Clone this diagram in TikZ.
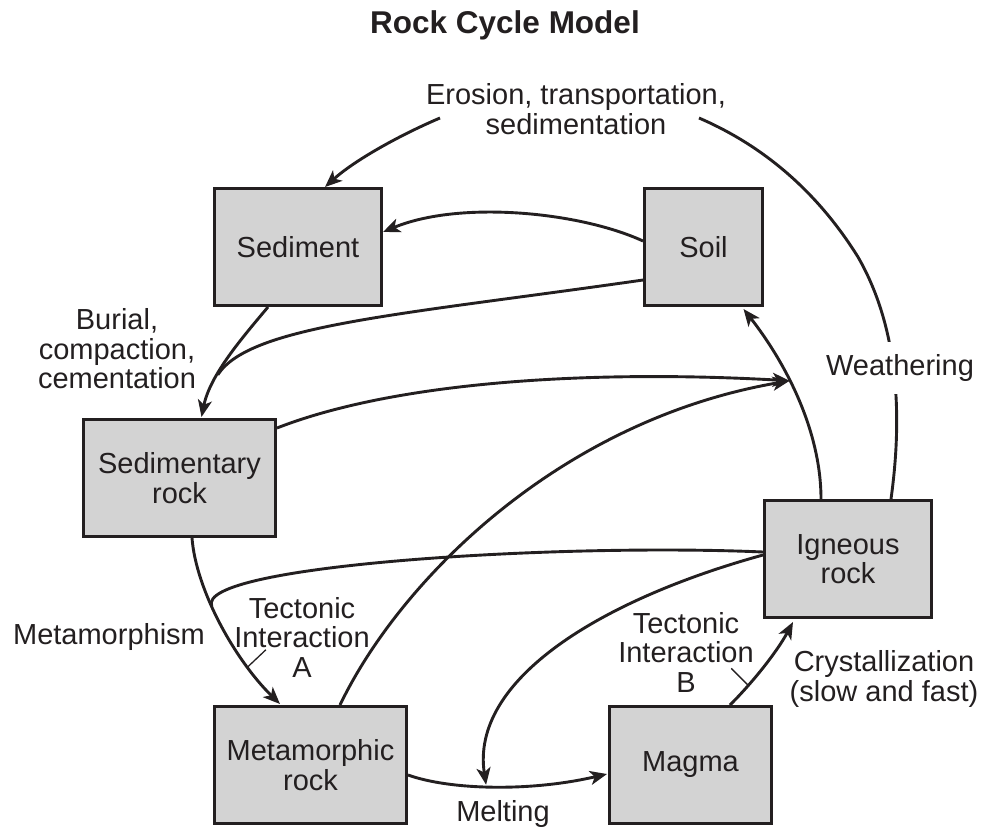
\documentclass[tikz,border=0pt]{standalone}
\usepackage{fontspec}
\setmainfont{Liberation Sans}
\usetikzlibrary{arrows.meta,calc}
\definecolor{boxgray}{RGB}{211,211,211}
\definecolor{ink}{RGB}{35,31,32}
\begin{document}
\begin{tikzpicture}[x=1pt,y=-1pt,
  every node/.style={font=\fontsize{29pt}{29.5pt}\selectfont, text=ink},
  rockbox/.style={draw=ink, line width=2.8pt, fill=boxgray, inner sep=0pt, align=center, minimum height=117.2pt},
  flow/.style={draw=ink, line width=2.9pt, -{Stealth[length=17pt,width=14pt,inset=4.5pt]}},
  bareline/.style={draw=ink, line width=2.9pt},
  tickline/.style={draw=ink, line width=1.3pt},
  lbl/.style={align=center, inner sep=0pt}]
\useasboundingbox (0,0) rectangle (983,827);

% title
\node[font=\bfseries\fontsize{31.5pt}{32pt}\selectfont, anchor=base] (title) at (505,33) {Rock Cycle Model};

% boxes
\node[rockbox, minimum width=167.2pt] (sed) at (298,247) {Sediment};
\node[rockbox, minimum width=118.2pt] (soil) at (703.5,247) {Soil};
\node[rockbox, minimum width=192.2pt] (sedrock) at (179.5,478) {Sedimentary\\rock};
\node[rockbox, minimum width=167.2pt] (ign) at (848,559) {Igneous\\rock};
\node[rockbox, minimum width=192.2pt] (meta) at (310.5,765) {Metamorphic\\rock};
\node[rockbox, minimum width=162.2pt] (magma) at (690.5,765) {Magma};

% labels
\node[lbl] (ero) at (576,109) {Erosion, transportation,\\sedimentation};
\node[lbl] (burial) at (117,349) {Burial,\\compaction,\\cementation};
\node[lbl] (metalbl) at (109,637) {Metamorphism};
\node[lbl] (teca) at (302,637) {Tectonic\\Interaction\\A};
\node[lbl] (tecb) at (686,652) {Tectonic\\Interaction\\B};
\node[lbl] (cryst) at (884,679) {Crystallization\\(slow and fast)};
\node[lbl, anchor=base] (melt) at (503,821) {Melting};

% erosion / weathering
\coordinate (eroL) at ($(ero.center)+(-136,9)$);
\coordinate (eroR) at ($(ero.center)+(123,9)$);
\draw[flow] (eroL) .. controls (400,135) and (355,160) .. ($(sed.north)+(27,0)$);
\draw[bareline] ($(ign.north)+(43,0)$) .. controls (902,420) and (900,330) .. (858,257)
   .. controls (810,180) and (750,140) .. (eroR);
\node[fill=white, inner xsep=1pt, inner ysep=12pt] (weath) at (900,368) {Weathering};

% soil -> sediment
\draw[flow] ($(soil.west)+(0,-6)$) .. controls (580,212) and (460,200) .. ($(sed.east)+(0,-15)$);
% sediment -> sedimentary rock
\draw[flow] ($(sed.south)+(-30,0)$) .. controls (242,338) and (210,375) .. ($(sedrock.north)+(22,-1)$)
   coordinate[pos=0.65] (J);
% soil -> sedimentary rock (merging)
\draw[bareline] ($(soil.west)+(0,33)$) .. controls (400,315) and (250,325) .. (J);

% igneous -> soil
\draw[flow] ($(ign.north)+(-27,0)$) .. controls (821,430) and (785,362) .. ($(soil.south)+(40,2)$)
   coordinate[pos=0.59] (j1);
% sedimentary rock -> weathering path
\draw[flow] ($(sedrock.east)+(0,-50)$) .. controls (400,380) and (600,370) .. (j1);
% metamorphic rock -> weathering path
\draw[flow] ($(meta.north)+(29.5,0)$) .. controls (400,580) and (560,420) .. (j1);

% sedimentary rock -> metamorphic rock
\draw[flow] ($(sedrock.south)+(12.5,0)$) .. controls (196,590) and (235,660) .. ($(meta.north)+(-30.5,-1)$)
   coordinate[pos=0.4] (ja) coordinate[pos=0.75] (ta);
% igneous -> tectonic A
\draw[bareline] ($(ign.west)+(0,-7)$) .. controls (560,543) and (195,565) .. (ja);
\draw[tickline] (ta) -- ($(ta)+(18,-17)$);

% melting
\draw[flow] ($(meta.east)+(0,10)$) .. controls (450,790) and (530,792) .. ($(magma.west)+(-1,9)$)
   coordinate[pos=0.46] (jm);
% igneous -> tectonic B
\draw[flow] ($(ign.west)+(0,-4)$) .. controls (600,600) and (470,680) .. ($(jm)+(0,-2)$);

% crystallization
\draw[flow] ($(magma.north)+(39.5,0)$) .. controls (755,680) and (778,650) .. ($(ign.south)+(-55,3)$)
   coordinate[pos=0.25] (tb);
\draw[tickline] (tb) -- ($(tb)+(-17,-17)$);
\end{tikzpicture}
\end{document}
